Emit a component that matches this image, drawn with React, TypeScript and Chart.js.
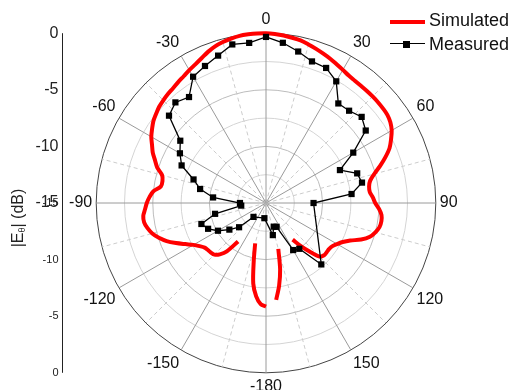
import { useEffect, useRef } from 'react';
import { Chart, registerables } from 'chart.js';

Chart.register(...registerables);

const FONT = '"Liberation Sans", Arial, sans-serif';

// Angular grid (degrees, clockwise from top), 3° step; 180° is shown as -180
const ANGLES: number[] = Array.from({ length: 120 }, (_, i) => (i * 3 < 180 ? i * 3 : i * 3 - 360));
const ANGLE_TICKS = [0, 30, 60, 90, 120, 150, -180, -150, -120, -90, -60, -30];

// Radial scale (dB)
const R_MIN = -15;
const R_MAX = 0;
const R_STEP = 2.5;
const LEFT_TICKS_TOP = [0, -5, -10, -15];
const LEFT_TICKS_BOTTOM = [-15, -10, -5, 0];

// Simulated |E| (dB), 3° step: 0,3,...,177, 180, -177, ..., -3
const SIM_DB: (number | null)[] = [
  0, -0.05, -0.12, -0.22, -0.32, -0.5, -0.68, -0.87, -1.05, -1.25,
  -1.42, -1.58, -1.65, -1.68, -1.68, -1.68, -1.69, -1.71, -1.75, -1.9,
  -2.18, -2.6, -3.05, -3.7, -4.4, -5.1, -5.6, -5.78, -5.78, -5.55,
  -5.35, -5.0, -4.74, -4.68, -4.75, -5.0, -5.35, -6.0, -6.85, -7.4,
  -7.75, -8.0, -8.1, -8.1, -8.1, -8.3, -9.2, -10.1, -11.0, null,
  null, null, null, null, null, -10.8, -9.0, -7.6, -6.4, null,
  -5.85, -6.05, -6.7, -7.8, -9.8, -11.3, null, null, null, null,
  null, null, -10.8, -9.5, -8.9, -8.55, -8.45, -8.4, -8.3, -8.0,
  -7.6, -7.0, -6.3, -5.6, -5.05, -4.6, -4.3, -4.1, -4.1, -4.3,
  -4.47, -4.7, -5.0, -5.6, -5.65, -5.5, -4.9, -4.5, -4.05, -3.7,
  -3.3, -3.0, -2.7, -2.5, -2.3, -2.17, -2.05, -1.95, -1.8, -1.65,
  -1.45, -1.25, -1.0, -0.7, -0.45, -0.28, -0.15, -0.05, -0.02, 0,
];

// Measured |E| (dB), 6° step: 0,6,...,174, 180, -174, ..., -6
const MEAS_DB: (number | null)[] = [
  -0.33, -0.77, -1.32, -1.85, -1.94, -2.59, -4.13, -4.03, -3.63, -4.11,
  -6.1, -7.85, -6.53, -6.33, -7.4, -10.8, null, null, null, null,
  null, null, null, -7.7, -10.0, -10.2, -12.7, -12.8, -12.1, null,
  null, -13.65, null, null, null, null, null, -13.35, -11.8, -11.0,
  -10.1, -9.4, -9.0, -10.4, -12.8, -12.7, -10.3, -9.05, -8.27, -6.84,
  -6.22, -5.64, -3.47, -3.04, -3.43, -2.12, -1.75, -1.31, -0.68, -0.78,
];
// Measured line is not drawn between these two angles (through 180°)
const MEAS_LINE_GAP: [number, number] = [162, -138];

const leftAxisPlugin = {
  id: 'leftAxis',
  afterDraw(chart: any) {
    const r = chart.scales.r;
    const ctx = chart.ctx as CanvasRenderingContext2D;
    const yc = r.yCenter;
    const R = r.drawingArea;
    const axisX = 62.5;
    ctx.save();
    ctx.strokeStyle = '#222';
    ctx.lineWidth = 1;
    ctx.beginPath();
    ctx.moveTo(axisX, yc - R);
    ctx.lineTo(axisX, yc + R);
    ctx.stroke();
    ctx.fillStyle = '#222';
    ctx.textAlign = 'right';
    ctx.textBaseline = 'middle';
    ctx.font = `16px ${FONT}`;
    LEFT_TICKS_TOP.forEach((v) => {
      const d = r.getDistanceFromCenterForValue(v);
      ctx.fillText(String(v), axisX - 4, yc - d);
    });
    ctx.font = `11px ${FONT}`;
    LEFT_TICKS_BOTTOM.forEach((v) => {
      const d = r.getDistanceFromCenterForValue(v);
      ctx.fillText(String(v), axisX - 4, yc + d);
    });
    // Axis title |Eθ| (dB)
    ctx.translate(19, yc + 15);
    ctx.rotate(-Math.PI / 2);
    const parts: [string, string, number][] = [
      ['|E', `16px ${FONT}`, 0],
      ['θ', `9px ${FONT}`, 4],
      ['| (dB)', `16px ${FONT}`, 0],
    ];
    let total = 0;
    parts.forEach(([t, f]) => {
      ctx.font = f;
      total += ctx.measureText(t).width;
    });
    let x = -total / 2;
    ctx.textAlign = 'left';
    parts.forEach(([t, f, dy]) => {
      ctx.font = f;
      ctx.fillText(t, x, dy);
      x += ctx.measureText(t).width;
    });
    ctx.restore();
  },
};

export default function App() {
  const ref = useRef<HTMLCanvasElement>(null);

  useEffect(() => {
    if (!ref.current) return;
    const measuredTable = ANGLES.map((_, i) => (i % 2 === 0 ? MEAS_DB[i / 2] : null));
    const gapFrom = ANGLES.indexOf(MEAS_LINE_GAP[0]);
    const gapTo = ANGLES.indexOf(MEAS_LINE_GAP[1]);

    const chart = new Chart(ref.current, {
      type: 'radar',
      data: {
        labels: ANGLES.map((a) => String(a)),
        datasets: [
          {
            label: 'Measured',
            data: measuredTable,
            borderColor: '#000',
            borderWidth: 1.3,
            backgroundColor: 'rgba(0,0,0,0)',
            fill: false,
            spanGaps: true,
            tension: 0,
            pointStyle: 'rect',
            pointRadius: 4.4,
            pointBackgroundColor: '#000',
            pointBorderColor: '#000',
            pointBorderWidth: 0,
            segment: {
              borderColor: (ctx: any) =>
                ctx.p1DataIndex > gapFrom && ctx.p1DataIndex <= gapTo ? 'rgba(0,0,0,0)' : '#000',
            },
          } as any,
          {
            label: 'Simulated',
            data: SIM_DB,
            borderColor: '#ff0000',
            borderWidth: 4,
            backgroundColor: 'rgba(0,0,0,0)',
            fill: false,
            spanGaps: false,
            tension: 0.3,
            pointRadius: 0,
          },
        ],
      },
      options: {
        animation: false,
        responsive: false,
        maintainAspectRatio: false,
        layout: { padding: { left: 40, right: 18, top: 10, bottom: 4 } },
        plugins: { legend: { display: false }, tooltip: { enabled: false } },
        scales: {
          r: {
            min: R_MIN,
            max: R_MAX,
            beginAtZero: false,
            ticks: { display: false, stepSize: R_STEP },
            grid: {
              circular: true,
              color: (ctx: any) => {
                const v = ctx.tick ? ctx.tick.value : 0;
                if (v === R_MAX) return '#444';
                return v % 5 === 0 ? '#bcbcbc' : '#d4d4d4';
              },
              lineWidth: 1,
            },
            angleLines: {
              display: true,
              color: (ctx: any) => {
                const a = ANGLES[ctx.index];
                return a % 30 === 0 ? '#9a9a9a' : '#cccccc';
              },
              lineWidth: (ctx: any) => (ANGLES[ctx.index] % 15 === 0 ? 1 : 0),
              borderDash: (ctx: any) => (ANGLES[ctx.index] % 30 === 0 ? [] : [4, 3]),
            },
            pointLabels: {
              display: true,
              padding: 4,
              color: '#111',
              font: { family: FONT, size: 16 },
              callback: (label: string) => (ANGLE_TICKS.includes(Number(label)) ? label : ''),
            },
          } as any,
        },
      },
      plugins: [leftAxisPlugin],
    });
    return () => chart.destroy();
  }, []);

  const legendText: React.CSSProperties = {
    position: 'absolute',
    left: 429,
    font: `18px ${FONT}`,
    lineHeight: '18px',
    color: '#111',
    whiteSpace: 'nowrap',
  };

  return (
    <div style={{ position: 'fixed', left: 0, top: 0, width: 510, height: 390, overflow: 'hidden', background: '#fff' }}>
      <canvas ref={ref} width={510} height={400} style={{ display: 'block', width: 510, height: 400 }} />
      <div style={{ position: 'absolute', left: 390, top: 19.5, width: 35, height: 4, background: '#ff0000' }} />
      <div style={{ ...legendText, top: 11 }}>Simulated</div>
      <div style={{ position: 'absolute', left: 390, top: 43, width: 35, height: 1.3, background: '#000' }} />
      <div style={{ position: 'absolute', left: 403, top: 40.5, width: 7, height: 7, background: '#000' }} />
      <div style={{ ...legendText, top: 35 }}>Measured</div>
    </div>
  );
}
